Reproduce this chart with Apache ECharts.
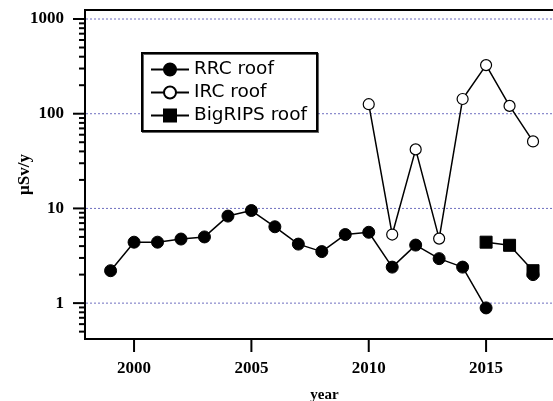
<!DOCTYPE html>
<html>
<head>
<meta charset="utf-8">
<script src="https://cdn.jsdelivr.net/npm/echarts@6/dist/echarts.min.js"></script>
<style>
html,body{margin:0;padding:0;background:#fff;}
#c{width:553px;height:401px;}
</style>
</head>
<body>
<div id="c"></div>
<script>
// ---- data ----
const rrcYears = [1999,2000,2001,2002,2003,2004,2005,2006,2007,2008,2009,2010,2011,2012,2013,2014,2015,2016,2017];
const rrcValues = [2.2,4.4,4.4,4.75,5.0,8.3,9.5,6.4,4.2,3.5,5.3,5.6,2.4,4.1,2.95,2.4,0.89,null,2.0];
const ircYears = [2010,2011,2012,2013,2014,2015,2016,2017];
const ircValues = [126,5.3,42,4.8,143,326,121,51];
const bigripsYears = [2015,2016,2017];
const bigripsValues = [4.4,4.08,2.2];
const seriesNames = ['RRC roof','IRC roof','BigRIPS roof'];
const xTickValues = [2000,2005,2010,2015];
const yMajorTicks = [1,10,100,1000];
const yMinorTicks = [0.5,0.6,0.7,0.8,0.9,2,3,4,5,6,7,8,9,20,30,40,50,60,70,80,90,200,300,400,500,600,700,800,900];

const X_MIN = 1997.91, X_MAX = 2018.32;
const Y_MIN = 0.418, Y_MAX = 1245;

function pairs(xs, vs){ return xs.map((x,i)=>[x, vs[i]==null ? '-' : vs[i]]); }

// decoration items: [x, y, kind]  kind 0=gridline,1=major y tick,2=minor y tick,3=x tick
const deco = [];
yMajorTicks.forEach(v=>{ deco.push([X_MIN, v, 0]); deco.push([X_MIN, v, 1]); });
yMinorTicks.forEach(v=>{ deco.push([X_MIN, v, 2]); });
xTickValues.forEach(v=>{ deco.push([v, Y_MIN, 3]); });

function renderDeco(params, api){
  const x = api.value(0), y = api.value(1), k = api.value(2);
  if (k === 0) {
    const a = api.coord([X_MIN, y]), b = api.coord([X_MAX, y]);
    return {type:'line', shape:{x1:a[0]+1,y1:a[1],x2:b[0],y2:b[1]},
      style:{stroke:'#6f6fc0', lineWidth:1, lineDash:[2,2]}};
  }
  if (k === 1 || k === 2) {
    const p = api.coord([X_MIN, y]);
    const len = k === 1 ? 12 : 6;
    return {type:'line', shape:{x1:p[0]-len,y1:p[1],x2:p[0],y2:p[1]},
      style:{stroke:'#000', lineWidth:2}};
  }
  const p = api.coord([x, Y_MIN]);
  return {type:'line', shape:{x1:p[0],y1:p[1],x2:p[0],y2:p[1]+13},
    style:{stroke:'#000', lineWidth:2}};
}

const labelFont = {fontFamily:'"Liberation Serif", "DejaVu Serif", serif', fontWeight:'bold', fontSize:17, color:'#000'};

const chart = echarts.init(document.getElementById('c'), null, {renderer:'canvas'});
chart.setOption({
  animation:false,
  backgroundColor:'#fff',
  grid:{left:85, top:10, width:479, height:329, outerBoundsMode:'none', containLabel:false,
    show:true, borderColor:'#000', borderWidth:2, backgroundColor:'transparent'},
  legend:{
    data:seriesNames, orient:'vertical', left:142, top:53,
    itemWidth:38, itemHeight:15, itemGap:4,
    padding:[7,10,6,8],
    borderColor:'#000', borderWidth:2, backgroundColor:'#fff',
    shadowColor:'rgba(0,0,0,0.6)', shadowOffsetX:1, shadowOffsetY:1, shadowBlur:0,
    textStyle:{fontFamily:'"DejaVu Sans", sans-serif', fontSize:18.5, color:'#000'}
  },
  xAxis:{
    type:'value', min:X_MIN, max:X_MAX,
    name:'year', nameLocation:'middle', nameGap:49, nameMoveOverlap:false,
    nameTextStyle:{fontFamily:'"Liberation Serif", serif', fontWeight:'bold', fontSize:15, color:'#000'},
    axisLine:{show:true, lineStyle:{color:'#000', width:2}},
    axisTick:{show:false}, splitLine:{show:false},
    axisLabel:Object.assign({margin:21, showMinLabel:false, showMaxLabel:false,
      formatter:function(v){ return xTickValues.indexOf(Math.round(v))>=0 && Math.abs(v-Math.round(v))<1e-6 ? String(Math.round(v)) : ''; }}, labelFont)
  },
  yAxis:{
    type:'log', logBase:10, min:Y_MIN, max:Y_MAX,
    name:'μSv/y', nameLocation:'middle', nameGap:52, nameMoveOverlap:false,
    nameTextStyle:{fontFamily:'"Liberation Serif", serif', fontWeight:'bold', fontSize:17, color:'#000'},
    axisLine:{show:true, lineStyle:{color:'#000', width:2}},
    axisTick:{show:false}, splitLine:{show:false}, minorTick:{show:false},
    axisLabel:Object.assign({margin:21, showMinLabel:false, showMaxLabel:false,
      formatter:function(v){ for (const t of yMajorTicks){ if (Math.abs(v-t)/t<1e-6) return String(t);} return ''; }}, labelFont)
  },
  series:[
    {type:'custom', name:'deco', silent:true, clip:false, z:1, renderItem:renderDeco, data:deco},
    {type:'line', name:seriesNames[0], data:pairs(rrcYears, rrcValues), symbol:'circle', symbolSize:12,
      lineStyle:{color:'#000', width:1.5}, itemStyle:{color:'#000', borderColor:'#000', borderWidth:1}, z:3},
    {type:'line', name:seriesNames[1], data:pairs(ircYears, ircValues), symbol:'circle', symbolSize:11, showAllSymbol:true,
      lineStyle:{color:'#000', width:1.5}, itemStyle:{color:'#fff', borderColor:'#000', borderWidth:1.2}, z:3},
    {type:'line', name:seriesNames[2], data:pairs(bigripsYears, bigripsValues), symbol:'rect', symbolSize:12,
      lineStyle:{color:'#000', width:1.5}, itemStyle:{color:'#000', borderColor:'#000', borderWidth:1}, z:4}
  ]
});
</script>
</body>
</html>
